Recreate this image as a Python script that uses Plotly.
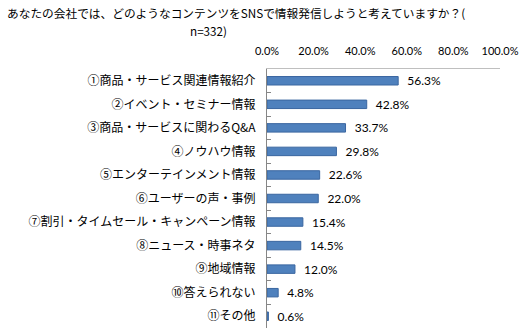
import plotly.graph_objects as go

categories = [
    "①商品・サービス関連情報紹介",
    "②イベント・セミナー情報",
    "③商品・サービスに関わるQ&A",
    "④ノウハウ情報",
    "⑤エンターテインメント情報",
    "⑥ユーザーの声・事例",
    "⑦割引・タイムセール・キャンペーン情報",
    "⑧ニュース・時事ネタ",
    "⑨地域情報",
    "⑩答えられない",
    "⑪その他",
]
values = [0.563, 0.428, 0.337, 0.298, 0.226, 0.220, 0.154, 0.145, 0.120, 0.048, 0.006]
x_ticks = [0, 0.2, 0.4, 0.6, 0.8, 1.0]
title_line1 = "あなたの会社では、どのようなコンテンツをSNSで情報発信しようと考えていますか？("
title_line2 = "n=332)"

JP = "Noto Sans CJK JP"
LAT = "Lato"

fig = go.Figure(go.Bar(
    x=values,
    y=categories,
    orientation="h",
    marker=dict(color="#4F81BD", line=dict(color="#3A66A0", width=1)),
    width=0.36,
    texttemplate="\u00a0\u00a0%{x:.1%}",
    textposition="outside",
    constraintext="none",
    cliponaxis=False,
    textfont=dict(family=LAT, size=12, color="#000000"),
))

fig.update_layout(
    width=529, height=335,
    margin=dict(l=267, r=29, t=69, b=7),
    paper_bgcolor="white", plot_bgcolor="white",
    showlegend=False,
    annotations=[
        dict(text=title_line1, xref="paper", yref="paper",
             x=-262 / 233, y=1 + 57 / 259, xanchor="left", yanchor="middle",
             showarrow=False, font=dict(family=JP, size=11.7, color="#000000")),
        dict(text=title_line2, xref="paper", yref="paper",
             x=(208 - 267) / 233, y=1 + 39 / 259, xanchor="center", yanchor="middle",
             showarrow=False, font=dict(family=JP, size=11.7, color="#000000")),
    ],
)

fig.update_xaxes(
    side="top",
    range=[0, 1],
    tickvals=x_ticks,
    tickformat=".1%",
    showgrid=False,
    zeroline=False,
    showline=True, linecolor="#BFBFBF", linewidth=1,
    ticks="outside", ticklen=9, tickcolor="rgba(0,0,0,0)",
    tickfont=dict(family=LAT, size=11, color="#000000"),
)
fig.update_yaxes(
    categoryorder="array",
    categoryarray=categories,
    autorange="reversed",
    showgrid=False,
    showline=True, linecolor="#868686", linewidth=1,
    ticks="inside", ticklen=4, tickcolor="#868686", tickson="boundaries",
    ticklabelstandoff=8,
    tickfont=dict(family=JP, size=12, color="#000000"),
)

fig.write_html("out.html")
